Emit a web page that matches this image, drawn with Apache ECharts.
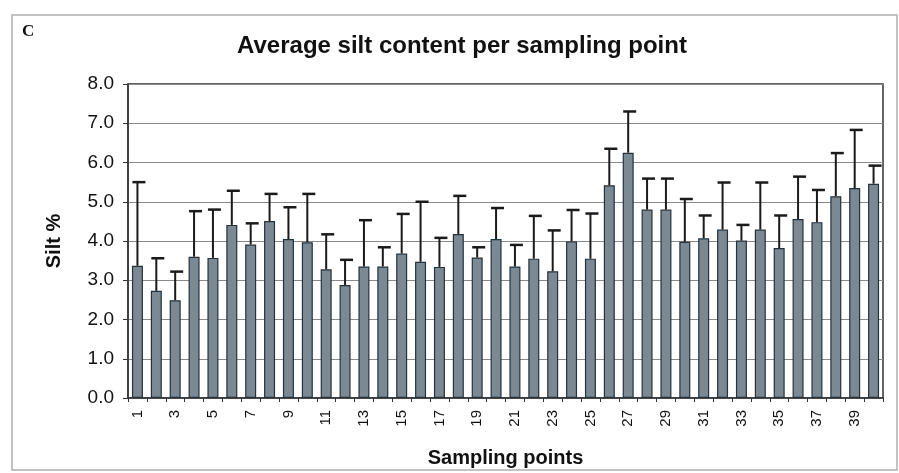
<!DOCTYPE html>
<html>
<head>
<meta charset="utf-8">
<script src="https://cdn.jsdelivr.net/npm/echarts@6/dist/echarts.min.js"></script>
<style>
html,body{margin:0;padding:0;background:#fff;}
#chart{width:899px;height:473px;}
</style>
</head>
<body>
<div id="chart"></div>
<script>
var categories = ['1','2','3','4','5','6','7','8','9','10','11','12','13','14','15','16','17','18','19','20',
                  '21','22','23','24','25','26','27','28','29','30','31','32','33','34','35','36','37','38','39','40'];
var siltMean = [3.37,2.73,2.49,3.60,3.57,4.41,3.91,4.51,4.05,3.97,3.28,2.88,3.35,3.35,3.68,3.47,3.34,4.18,3.58,4.05,
                3.35,3.55,3.23,3.99,3.55,5.42,6.25,4.80,4.80,3.98,4.07,4.29,4.01,4.29,3.82,4.56,4.48,5.14,5.35,5.46];
var siltUpper = [5.50,3.56,3.22,4.76,4.80,5.28,4.45,5.20,4.86,5.20,4.17,3.52,4.53,3.84,4.69,5.00,4.08,5.15,3.84,4.84,
                 3.90,4.64,4.27,4.79,4.70,6.35,7.30,5.59,5.59,5.07,4.65,5.49,4.41,5.49,4.65,5.64,5.30,6.24,6.83,5.92];
var yTicks = [0,1,2,3,4,5,6,7,8];

var errData = categories.map(function(c,i){ return [i, siltMean[i], siltUpper[i]]; });

var chart = echarts.init(document.getElementById('chart'), null, {renderer:'canvas'});
var option = {
  animation: false,
  backgroundColor: '#ffffff',
  title: {
    text: 'Average silt content per sampling point',
    left: 457, top: 29, textAlign: 'center',
    textStyle: {fontFamily:'Liberation Sans, Arial, sans-serif', fontWeight:'bold', fontSize:24, color:'#111'}
  },
  graphic: [
    {type:'rect', shape:{x:12,y:15,width:885,height:455}, style:{fill:null, stroke:'#b0b0b0', lineWidth:1.5}, silent:true, z:-1},
    {type:'text', left:22, top:23, style:{text:'C', font:'bold 17px "Liberation Serif", serif', fill:'#111'}}
  ],
  grid: {left:128, right:16, top:84, bottom:68, show:true, borderColor:'#333', borderWidth:1.5, backgroundColor:'transparent'},
  xAxis: {
    type:'category', data: categories,
    name:'Sampling points', nameLocation:'middle', nameGap:50,
    nameTextStyle:{fontFamily:'Liberation Sans, Arial, sans-serif', fontWeight:'bold', fontSize:20, color:'#111'},
    axisLine:{lineStyle:{color:'#333', width:1.5}},
    axisTick:{show:true, interval:0, length:4, lineStyle:{color:'#333'}},
    axisLabel:{interval:1, rotate:90, margin:12, fontFamily:'Liberation Sans, Arial, sans-serif', fontSize:15, color:'#111'},
    splitLine:{show:false}
  },
  yAxis: {
    type:'value', min:0, max:8, interval:1,
    name:'Silt %', nameLocation:'middle', nameGap:64, nameRotate:90,
    nameTextStyle:{fontFamily:'Liberation Sans, Arial, sans-serif', fontWeight:'bold', fontSize:20, color:'#111'},
    axisLine:{show:true, lineStyle:{color:'#333', width:1.5}},
    axisTick:{show:true, length:5, lineStyle:{color:'#333'}},
    axisLabel:{margin:14, fontFamily:'Liberation Sans, Arial, sans-serif', fontSize:19, color:'#111',
      formatter:function(v){ return v.toFixed(1); }},
    splitLine:{show:true, lineStyle:{color:'#8a8a8a', width:1.2}}
  },
  series: [
    {
      type:'bar', data: siltMean, barWidth:11,
      itemStyle:{color:'#7b8994', borderColor:'#25323a', borderWidth:1.2},
      z:2
    },
    {
      type:'custom', z:3,
      data: errData,
      renderItem: function(params, api){
        var x = api.value(0);
        var pBase = api.coord([x, api.value(1)]);
        var pTop = api.coord([x, api.value(2)]);
        return {
          type:'group',
          children:[
            {type:'line', shape:{x1:pBase[0], y1:pBase[1], x2:pTop[0], y2:pTop[1]}, style:{stroke:'#1a1a1a', lineWidth:2}},
            {type:'line', shape:{x1:pTop[0]-5, y1:pTop[1], x2:pTop[0]+8, y2:pTop[1]}, style:{stroke:'#1a1a1a', lineWidth:2.5}}
          ]
        };
      }
    }
  ]
};
chart.setOption(option);
</script>
</body>
</html>
